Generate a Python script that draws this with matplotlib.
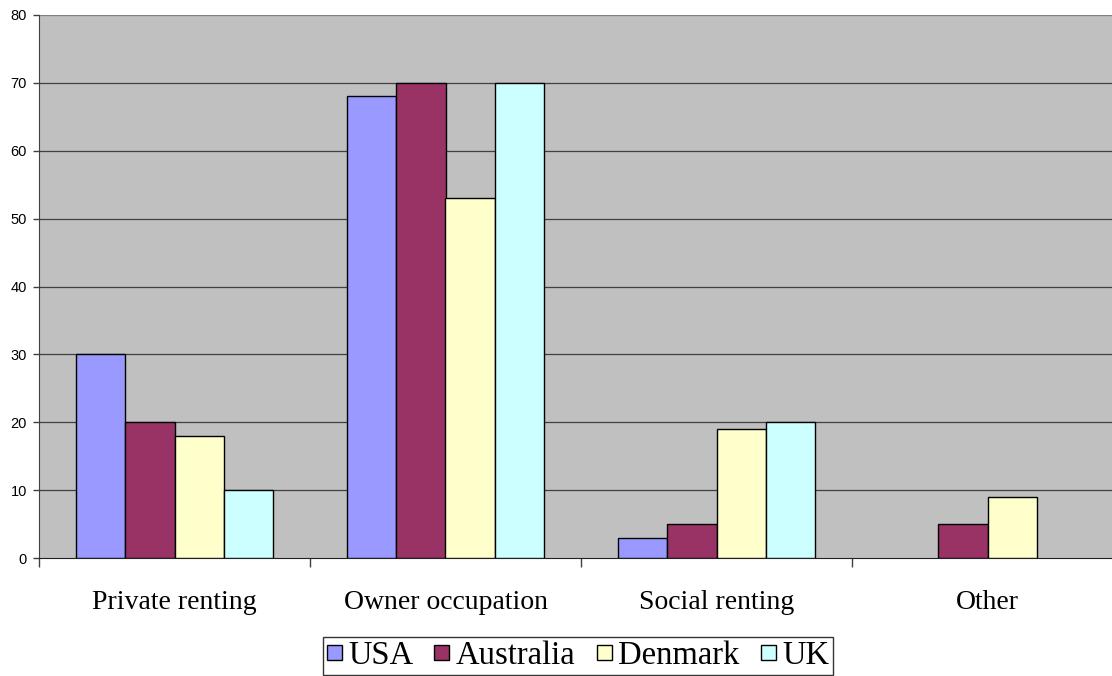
import matplotlib
matplotlib.use("Agg")
import matplotlib.pyplot as plt
import numpy as np

categories = ["Private renting", "Owner occupation", "Social renting", "Other"]
series_names = ["USA", "Australia", "Denmark", "UK"]
usa = [30, 68, 3, np.nan]
australia = [20, 70, 5, 5]
denmark = [18, 53, 19, 9]
uk = [10, 70, 20, np.nan]
series_values = [usa, australia, denmark, uk]
colors = ["#9999FF", "#993366", "#FFFFCC", "#CCFFFF"]
yticks = [0, 10, 20, 30, 40, 50, 60, 70, 80]

W, H = 1112, 676
fig = plt.figure(figsize=(W / 100, H / 100), dpi=100)
ax = fig.add_axes([39 / W, (H - 558) / H, 1084 / W, 543 / H])
ax.set_facecolor("#C0C0C0")

x = np.arange(len(categories))
bw = 1 / 5.5
for i, (name, vals, c) in enumerate(zip(series_names, series_values, colors)):
    offs = (i - 1.5) * bw
    ax.bar(x + offs, vals, width=bw, color=c, edgecolor="black", linewidth=1.0,
           label=name, zorder=3)

ax.set_xlim(-0.5, 3.5)
ax.set_ylim(0, 80)
ax.set_yticks(yticks)
ax.set_yticklabels([str(v) for v in yticks], fontfamily="Liberation Sans", fontsize=10.5)
for v in yticks[1:]:
    ax.axhline(v, color="#404040" if v < 80 else "#808080", linewidth=0.9, zorder=1)

ax.set_xticks(x)
ax.set_xticklabels(categories, fontfamily="Liberation Serif", fontsize=20)
ax.tick_params(axis="x", which="major", length=0, pad=23)
ax.set_xticks([-0.5, 0.5, 1.5, 2.5, 3.5], minor=True)
ax.tick_params(axis="x", which="minor", length=6.5, width=1, color="#404040")
ax.tick_params(axis="y", length=4.3, width=1, color="#404040", pad=4.5)

for s in ["top", "right"]:
    ax.spines[s].set_visible(False)
ax.spines["left"].set_color("#404040")
ax.spines["bottom"].set_color("#202020")

leg = fig.legend(loc="upper center", bbox_to_anchor=(578 / W, 1 - 637 / H), ncol=4,
                 prop={"family": "Liberation Serif", "size": 23.5},
                 frameon=True, fancybox=False, shadow=False, borderpad=0.12,
                 handlelength=0.46, handleheight=0.3, handletextpad=0.2,
                 columnspacing=0.65, borderaxespad=0)
leg.get_frame().set_edgecolor("black")
leg.get_frame().set_linewidth(1.0)

fig.savefig("out.png", dpi=100)
